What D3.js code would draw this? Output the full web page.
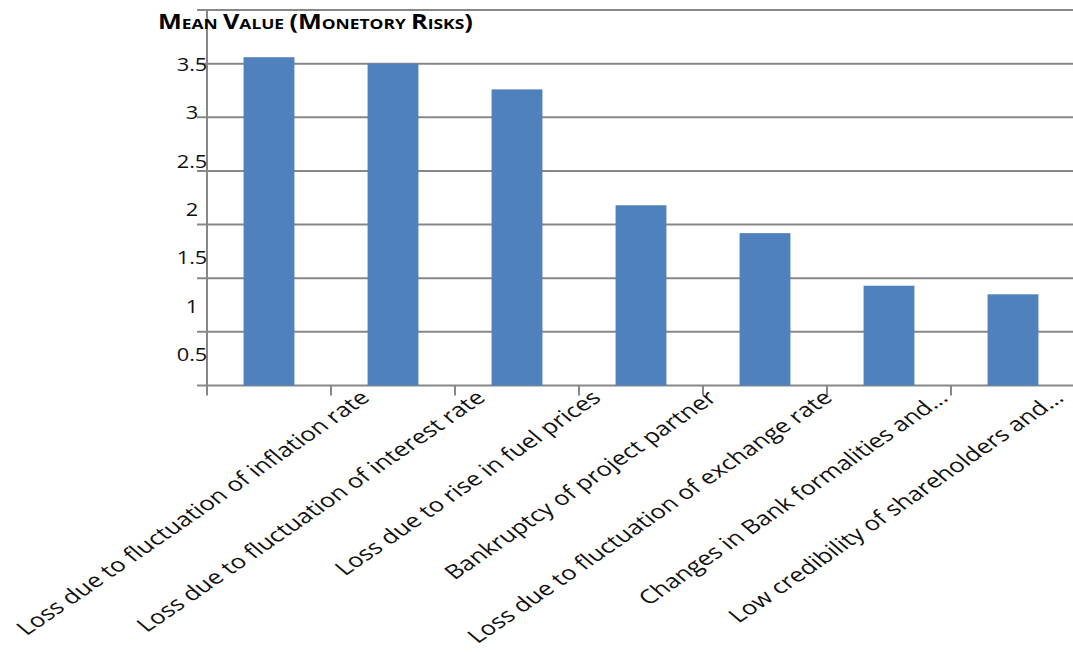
<!DOCTYPE html>
<html>
<head>
<meta charset="utf-8">
<script src="https://cdn.jsdelivr.net/npm/d3@7"></script>
<style>
  html, body { margin: 0; padding: 0; background: #fff; }
  svg { display: block; }
</style>
</head>
<body>
<svg id="chart" width="1073" height="652"></svg>
<script>
// Mean value of each monetary risk factor
const categories = [
  "Loss due to fluctuation of inflation rate",
  "Loss due to fluctuation of interest rate",
  "Loss due to rise in fuel prices",
  "Bankruptcy of project partner",
  "Loss due to fluctuation of exchange rate",
  "Changes in Bank formalities and\u2026",
  "Low credibility of shareholders and\u2026"
];
const meanValues = [3.56, 3.5, 3.26, 2.18, 1.92, 1.43, 1.35];
const gridValues = [0.5, 1, 1.5, 2, 2.5, 3, 3.5, 4];
const tickLabels = ["0.5", "1", "1.5", "2", "2.5", "3", "3.5"];
const titleText = "Mean Value (Monetory  Risks)";

const svg = d3.select("#chart");
const plotLeft = 207, plotRight = 1075, plotTop = 10, plotBottom = 385.5;
const gridColor = "#878787";
const barColor = "#4F81BD";
const textColor = "#111";
const font = "'Open Sans', 'DejaVu Sans', sans-serif";
const stretchX = 1.31;   // category text is set slightly wide

const x = d3.scaleBand()
  .domain(categories)
  .range([plotLeft, plotRight])
  .paddingInner(0.59)
  .paddingOuter(0.295);

const y = d3.scaleLinear().domain([0.5, 4]).range([plotBottom, plotTop]);
// value labels sit on a slightly compressed column beside the axis
const yLabel = d3.scaleLinear().domain([0.5, 3.5]).range([354, 64]);
// end points of the slanted category labels
const xLabel = d3.scalePoint().domain(categories).range([371, 1065]);

// horizontal gridlines (with outward tick stubs)
svg.append("g")
  .selectAll("line")
  .data(gridValues)
  .join("line")
  .attr("x1", plotLeft - 10)
  .attr("x2", 1073)
  .attr("y1", d => y(d))
  .attr("y2", d => y(d))
  .attr("stroke", gridColor)
  .attr("stroke-width", 2);

// bars
svg.append("g")
  .selectAll("rect")
  .data(meanValues)
  .join("rect")
  .attr("x", (d, i) => x(categories[i]))
  .attr("width", x.bandwidth())
  .attr("y", d => y(d))
  .attr("height", d => y(0.5) - y(d))
  .attr("fill", barColor);

// vertical axis line
svg.append("line")
  .attr("x1", plotLeft).attr("x2", plotLeft)
  .attr("y1", plotTop).attr("y2", plotBottom + 10)
  .attr("stroke", gridColor)
  .attr("stroke-width", 2);

// category boundary ticks below the baseline
const step = x.step();
svg.append("g")
  .selectAll("line")
  .data(categories)
  .join("line")
  .attr("x1", d => x(d) - x.paddingOuter() * step + step)
  .attr("x2", d => x(d) - x.paddingOuter() * step + step)
  .attr("y1", plotBottom)
  .attr("y2", plotBottom + 10)
  .attr("stroke", gridColor)
  .attr("stroke-width", 2);

// value axis labels
svg.append("g")
  .selectAll("text")
  .data(tickLabels)
  .join("text")
  .attr("transform", d => `translate(192,${yLabel(+d)}) scale(1.15,1)`)
  .attr("dy", "0.36em")
  .attr("text-anchor", "middle")
  .attr("font-family", font)
  .attr("font-size", 19)
  .attr("fill", textColor)
  .text(d => d);

// slanted category labels
svg.append("g")
  .selectAll("text")
  .data(categories)
  .join("text")
  .attr("transform", d => `translate(${xLabel(d)},${plotBottom + 14}) scale(${stretchX},1) rotate(-42)`)
  .attr("text-anchor", "end")
  .attr("font-family", font)
  .attr("font-size", 19.6)
  .attr("fill", textColor)
  .text(d => d);

// title in small caps
const title = svg.append("text")
  .attr("x", 0)
  .attr("y", 0)
  .attr("font-family", font)
  .attr("font-weight", "bold")
  .attr("fill", "#000");
titleText.split(/(\s+)/).forEach(word => {
  if (/^\s+$/.test(word)) {
    title.append("tspan").attr("font-size", 17).text(word);
    return;
  }
  let i = 0;
  while (i < word.length) {
    const ch = word[i];
    const isUpper = ch === ch.toUpperCase();
    let j = i;
    while (j < word.length && (word[j] === word[j].toUpperCase()) === isUpper) j++;
    title.append("tspan")
      .attr("font-size", isUpper ? 21 : 14.5)
      .text(word.slice(i, j).toUpperCase());
    i = j;
  }
});
const titleWidth = title.node().getComputedTextLength();
title.attr("transform", `translate(158,29) scale(${315 / titleWidth},1)`);
</script>
</body>
</html>
